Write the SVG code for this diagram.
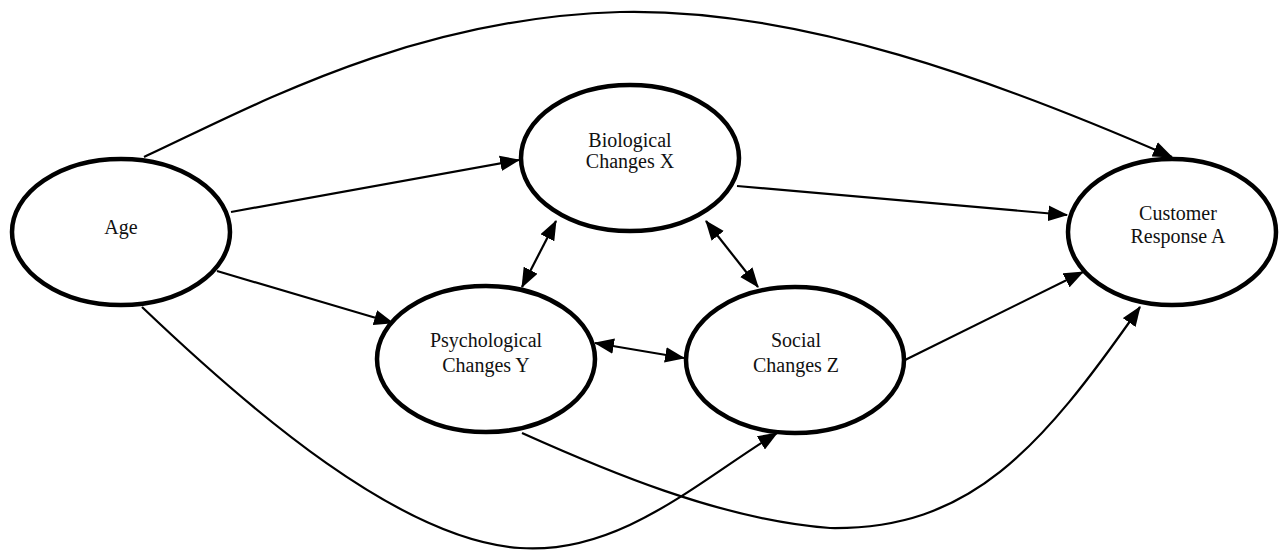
<svg xmlns="http://www.w3.org/2000/svg" width="1279" height="550" viewBox="0 0 1279 550">
<style>
.node ellipse{fill:#fff;stroke:#000;stroke-width:4.5}
.node text{font-family:"Liberation Serif","Times New Roman",serif;font-size:20px;fill:#111;text-anchor:middle}
.edge{fill:none;stroke:#000;stroke-width:2.2}
</style>
<defs>
<marker id="ah" markerUnits="userSpaceOnUse" markerWidth="20" markerHeight="16" viewBox="0 0 18 14" refX="17" refY="7" orient="auto-start-reverse">
<path d="M0,0 L18,7 L0,14 z" fill="#000"/>
</marker>
</defs>
<g id="connectors">
<path class="edge" d="M231,212 L519,160" marker-end="url(#ah)"/>
<path class="edge" d="M217,271 L393,323" marker-end="url(#ah)"/>
<path class="edge" d="M737,186 L1067,215" marker-end="url(#ah)"/>
<path class="edge" d="M905,360 L1083,272" marker-end="url(#ah)"/>
<path class="edge" d="M144,157 C250,108 410,18 620,12 C800,8 1000,82 1172,157" marker-end="url(#ah)"/>
<path class="edge" d="M142,307 C250,410 400,540 520,548 C620,555 700,480 777,433" marker-end="url(#ah)"/>
<path class="edge" d="M522,433 C600,468 720,520 830,528 C970,530 1040,450 1140,307" marker-end="url(#ah)"/>
<path class="edge" d="M556,221 L522,287" marker-start="url(#ah)" marker-end="url(#ah)"/>
<path class="edge" d="M706,221 L758,287" marker-start="url(#ah)" marker-end="url(#ah)"/>
<path class="edge" d="M595,343 L684,358" marker-start="url(#ah)" marker-end="url(#ah)"/>
</g>
<g id="age" class="node">
<ellipse cx="121" cy="232" rx="109" ry="73"/>
<text x="121" y="234">Age</text>
</g>
<g id="biological" class="node">
<ellipse cx="630" cy="158" rx="109" ry="73"/>
<text x="630" y="147">Biological</text>
<text x="630" y="168">Changes X</text>
</g>
<g id="psychological" class="node">
<ellipse cx="486" cy="359" rx="109" ry="73"/>
<text x="486" y="347">Psychological</text>
<text x="486" y="372">Changes Y</text>
</g>
<g id="social" class="node">
<ellipse cx="795" cy="360" rx="109" ry="73"/>
<text x="796" y="347">Social</text>
<text x="796" y="372">Changes Z</text>
</g>
<g id="customer" class="node">
<ellipse cx="1172" cy="232" rx="104" ry="73"/>
<text x="1178" y="220">Customer</text>
<text x="1178" y="243">Response A</text>
</g>
</svg>
